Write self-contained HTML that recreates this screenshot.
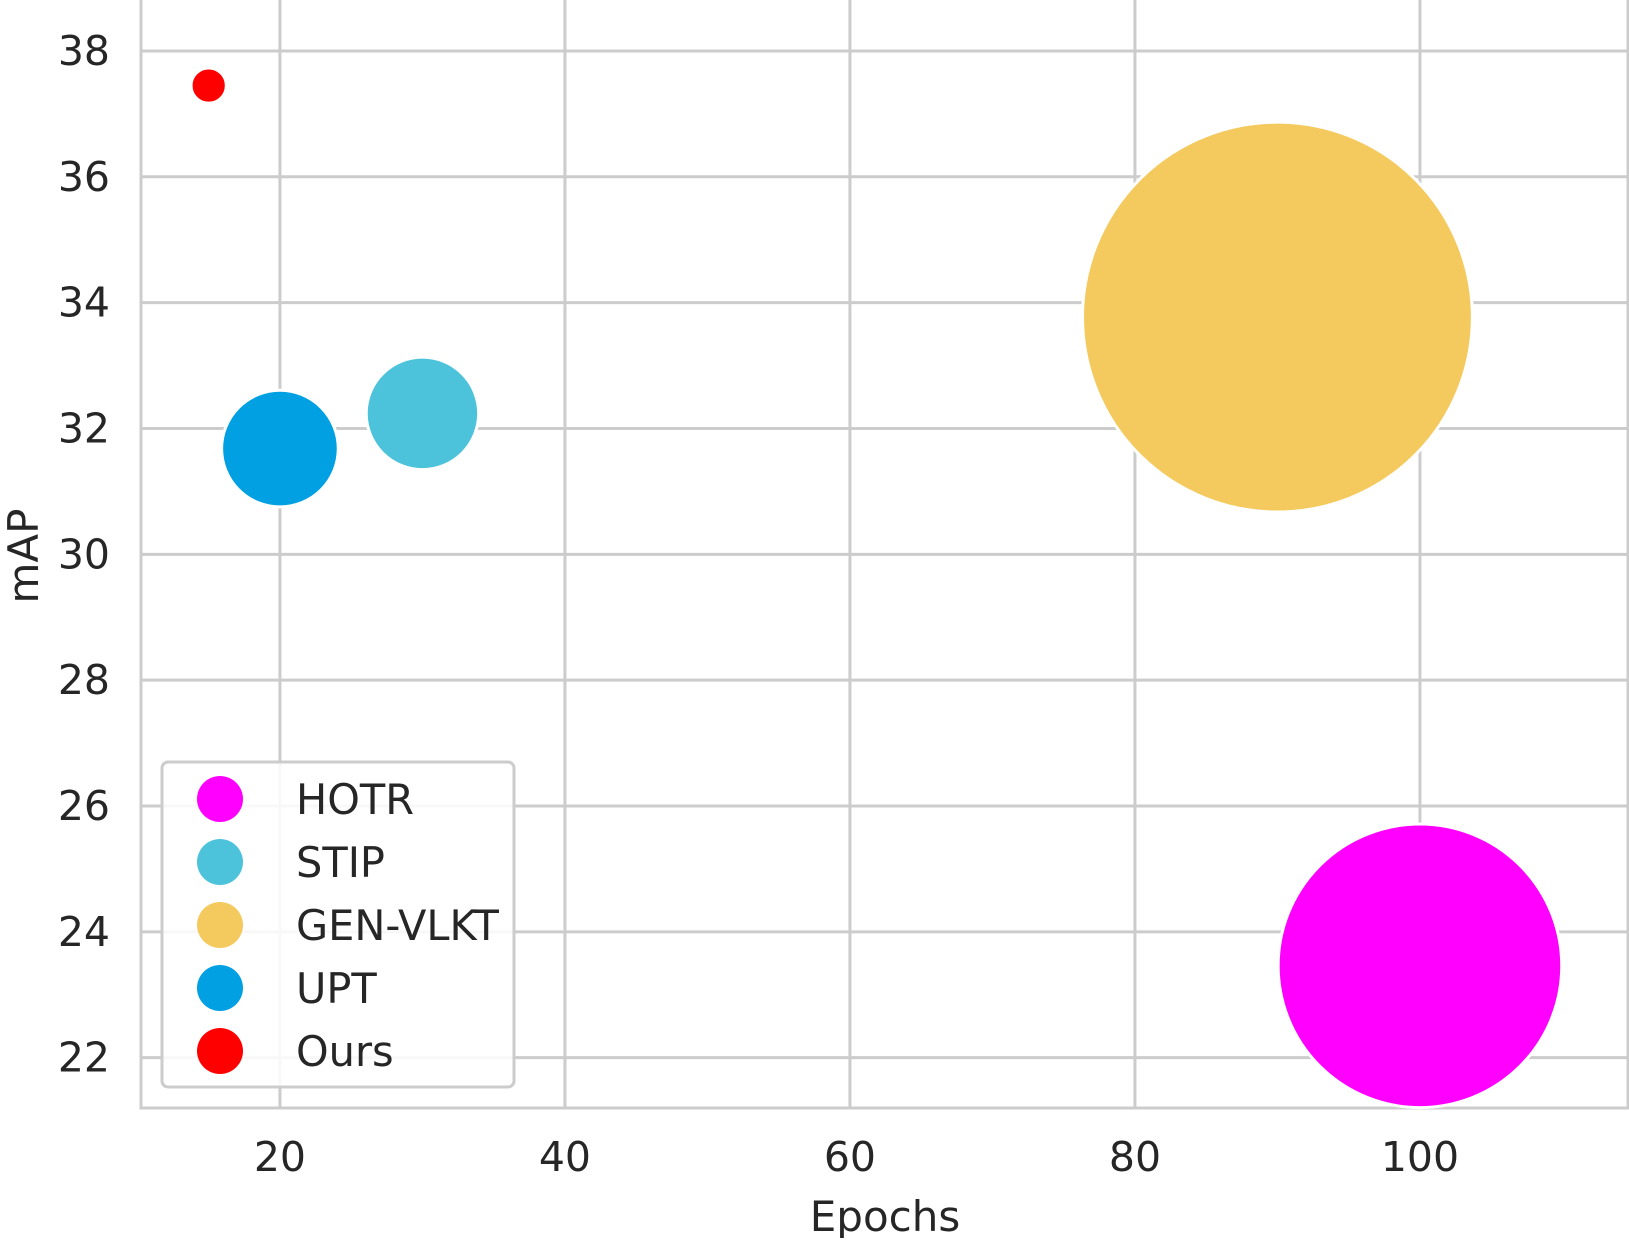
<!DOCTYPE html>
<html><head><meta charset="utf-8"><style>
html,body{margin:0;padding:0;background:#fff}
svg text{font-family:"DejaVu Sans","Liberation Sans",sans-serif;fill:#262626}
</style></head><body>
<svg id="chart" width="1629" height="1238" viewBox="0 0 1629 1238" xmlns="http://www.w3.org/2000/svg"></svg>
<script>
const methods = ["HOTR","STIP","GEN-VLKT","UPT","Ours"];
const epochs = [100,30,90,20,15];
const mapValues = [23.46,32.24,33.77,31.68,37.45];
const sizes = [201,31.6,380,34,3.1];
const colors = ["#ff00ff","#4cc3da","#f4ca5e","#00a0e3","#ff0000"];
const xTicks = [20,40,60,80,100];
const yTicks = [22,24,26,28,30,32,34,36,38];

const svg = document.getElementById('chart');
const NS = 'http://www.w3.org/2000/svg';
const L=141,R=1628,T=0,B=1108;
const xMin=10.25,xMax=114.6,yMin=21.2,yMax=38.81;
function xs(v){return L+(v-xMin)/(xMax-xMin)*(R-L);}
function ys(v){return B-(v-yMin)/(yMax-yMin)*(B-T);}
function rs(s){return Math.sqrt(s)*10;}
function mk(tag,attrs){const e=document.createElementNS(NS,tag);for(const k in attrs)e.setAttribute(k,attrs[k]);svg.appendChild(e);return e;}

xTicks.forEach(t=>{
  const l=mk('line',{x1:xs(t),x2:xs(t),y1:T,y2:B,stroke:'#cccccc','stroke-width':3});
  
  
  const tx=mk('text',{x:xs(t),y:1171,'font-size':41,'text-anchor':'middle'});
  tx.textContent=t;
  
  
});
yTicks.forEach(t=>{
  const l=mk('line',{x1:L,x2:R,y1:ys(t),y2:ys(t),stroke:'#cccccc','stroke-width':3});
  
  
  const tx=mk('text',{x:110,y:ys(t)+14,'font-size':41,'text-anchor':'end'});
  tx.textContent=t;
  
  
});
const sp=mk('path',{d:`M${L},${T} L${L},${B} L${R},${B} L${R},${T}`,fill:'none',stroke:'#cccccc','stroke-width':3});



methods.forEach((m,i)=>{
  const c=mk('circle',{cx:xs(epochs[i]),cy:ys(mapValues[i]),r:rs(sizes[i]),fill:colors[i],stroke:'#ffffff','stroke-width':3});
  
  
});

const xl=mk('text',{x:885,y:1231,'font-size':42,'text-anchor':'middle'});
xl.textContent='Epochs';


const yl=mk('text',{x:0,y:0,'font-size':42,'text-anchor':'middle',transform:'translate(38,556) rotate(-90)'});
yl.textContent='mAP';



const lb=mk('rect',{x:162,y:762,width:352,height:325,rx:6,fill:'#ffffff','fill-opacity':0.85,stroke:'#cccccc','stroke-width':3});


methods.forEach((m,i)=>{
  const y=799+i*63;
  const c=mk('circle',{cx:220,cy:y,r:23,fill:colors[i]});
  
  
  const t=mk('text',{x:296,y:y+15,'font-size':41.5});
  t.textContent=m;
  
  
});
</script>
</body></html>
